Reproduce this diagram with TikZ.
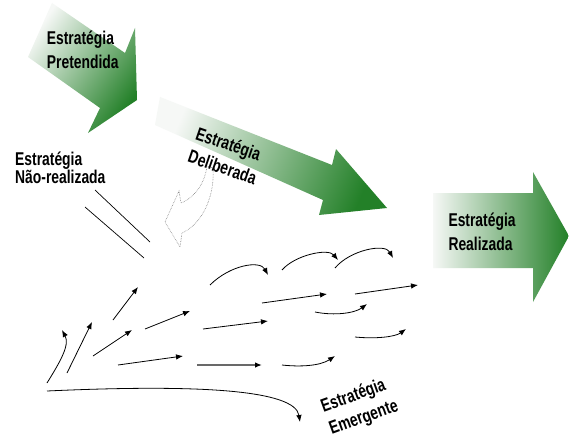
\documentclass[tikz,border=0pt]{standalone}
\usepackage{fontspec}
\setmainfont{Liberation Sans}[FakeStretch=0.75]
\usetikzlibrary{arrows.meta}
\definecolor{arrgreen}{RGB}{35,128,40}
\definecolor{arrlight}{RGB}{246,248,246}
\definecolor{greyline}{RGB}{105,105,105}
\begin{document}
\begin{tikzpicture}[x=1pt,y=-1pt,
  lbl/.style={font=\bfseries\fontsize{18.5}{24}\selectfont, align=left, inner sep=0pt, anchor=base west},
  flow/.style={line width=0.8pt, -{Latex[length=7pt,width=5.5pt]}},
  bigarrow/.style={shading=axis, top color=arrlight, middle color=arrgreen!55!arrlight, bottom color=arrgreen}]
\useasboundingbox[fill=white] (0,0) rectangle (569,441);
% big block arrows
\shade[bigarrow, shading angle=55]
  (52,3) -- (125,53) -- (135,28) -- (137,100) -- (88,133) -- (100,108) -- (28,57) -- cycle;
\shade[bigarrow, shading angle=67]
  (160,97) -- (332,165) -- (336,149) -- (387,208) -- (319,215) -- (323,200) -- (155,125) -- cycle;
\shade[bigarrow, shading angle=90]
  (433,193) -- (533,193) -- (533,172) -- (569,236) -- (533,302) -- (533,268) -- (433,268) -- cycle;
% hollow curved arrow (dotted)
\draw[densely dotted, gray, line width=0.6pt]
  (207,166) .. controls (205,182) and (196,197) .. (181,203)
  -- (179,191) -- (165,222) -- (180,247) -- (182,233)
  .. controls (200,225) and (215,200) .. (213,168) -- cycle;
% unrealized strategy lines
\draw[line width=0.7pt] (95,190) -- (150,242);
\draw[line width=0.7pt] (85,207) -- (144,258);
% emergent arrows
\draw[flow] (47,383) .. controls (60,362) and (70,345) .. (62,330);
\draw[flow] (67,373) -- (92,322);
\draw[flow] (113,320) -- (138,287);
\draw[flow] (93,356) -- (132,330);
\draw[flow] (145,329) -- (190,311);
\draw[flow] (118,365) -- (183,356);
\draw[flow] (203,329) -- (268,321);
\draw[flow] (262,303) -- (327,294);
\draw[flow] (355,294) -- (418,285);
\draw[greyline, line width=1.3pt, -{Latex[length=7pt,width=5.5pt,color=black]}] (197,365) -- (262,365);
\draw[flow] (210,285) .. controls (230,265) and (260,260) .. (268,275);
\draw[flow] (282,270) .. controls (295,255) and (328,248) .. (338,260);
\draw[flow] (335,268) .. controls (350,250) and (385,243) .. (393,258);
\draw[flow] (315,312) .. controls (335,316) and (355,313) .. (367,304);
\draw[flow] (355,337) .. controls (375,339) and (395,337) .. (406,329);
\draw[flow] (282,365) .. controls (300,367) and (320,366) .. (335,356);
\draw[flow] (47,391) .. controls (200,384) and (295,390) .. (300,422);
% labels (anchored at the baseline of the last line)
\node[lbl] (pret) at (46.7,68.3) {Estratégia\\Pretendida};
\node[lbl, font=\bfseries\fontsize{18.5}{18.5}\selectfont] (nreal) at (15,183.5) {Estratégia\\Não-realizada};
\node[lbl] (real) at (448.3,250.7) {Estratégia\\Realizada};
\node[lbl, rotate=-19] (delib) at (186.7,161.7) {Estratégia\\Deliberada};
\node[lbl, rotate=20] (emerg) at (331.7,435) {Estratégia\\Emergente};
\end{tikzpicture}
\end{document}
